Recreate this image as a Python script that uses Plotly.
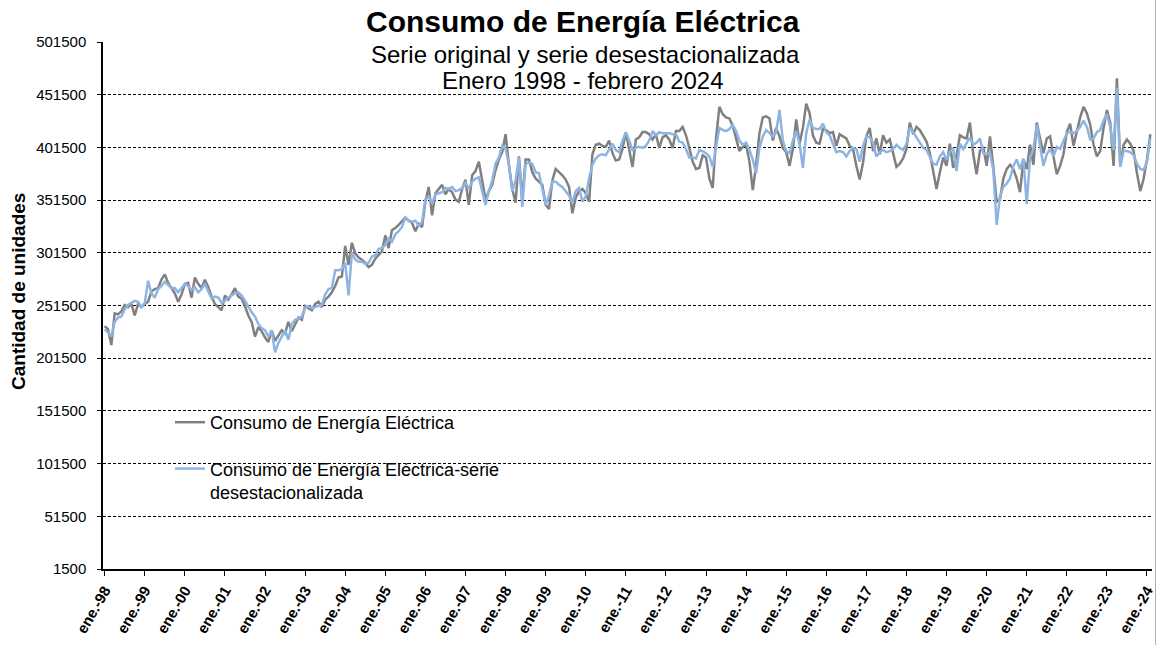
import plotly.graph_objects as go

# ---------------- data (monthly, Jan 1998 - Feb 2024) ----------------
consumo = [
    232000, 229000, 214000, 244000, 243000, 246000, 252000, 250000, 253000, 242000, 253000, 250000,  # 1998
    253000, 255000, 265000, 267000, 268000, 276000, 281000, 273000, 268000, 263000, 255000, 262000,  # 1999
    272000, 273000, 259000, 278000, 272000, 268000, 276000, 269000, 260000, 253000, 250000, 247000,  # 2000
    261000, 257000, 262000, 268000, 260000, 258000, 251000, 242000, 236000, 222000, 231000, 227000,  # 2001
    221000, 217000, 228000, 218000, 223000, 228000, 225000, 236000, 227000, 233000, 240000, 238000,  # 2002
    251000, 249000, 247000, 253000, 255000, 250000, 257000, 260000, 264000, 270000, 278000, 279000,  # 2003
    308000, 290000, 311000, 301000, 297000, 295000, 292000, 288000, 290000, 296000, 300000, 303000,  # 2004
    318000, 306000, 323000, 325000, 328000, 332000, 335000, 332000, 330000, 322000, 329000, 326000,  # 2005
    350000, 364000, 337000, 358000, 362000, 366000, 357000, 362000, 359000, 352000, 350000, 362000,  # 2006
    371000, 347000, 375000, 379000, 388000, 371000, 352000, 360000, 366000, 380000, 390000, 397000,  # 2007
    414000, 385000, 362000, 349000, 393000, 352000, 390000, 390000, 378000, 372000, 369000, 366000,  # 2008
    347000, 343000, 370000, 381000, 378000, 375000, 371000, 364000, 339000, 354000, 360000, 362000,  # 2009
    358000, 350000, 395000, 404000, 405000, 403000, 402000, 408000, 396000, 389000, 390000, 400000,  # 2010
    416000, 400000, 383000, 409000, 411000, 416000, 416000, 414000, 409000, 414000, 401000, 411000,  # 2011
    413000, 409000, 401000, 417000, 417000, 421000, 413000, 401000, 388000, 381000, 382000, 394000,  # 2012
    392000, 372000, 363000, 410000, 440000, 433000, 430000, 429000, 422000, 410000, 398000, 402000,  # 2013
    404000, 388000, 361000, 385000, 415000, 430000, 431000, 429000, 408000, 420000, 412000, 401000,  # 2014
    397000, 384000, 400000, 428000, 405000, 420000, 443000, 434000, 413000, 406000, 405000, 419000,  # 2015
    418000, 415000, 416000, 403000, 414000, 412000, 410000, 403000, 400000, 384000, 371000, 387000,  # 2016
    412000, 420000, 398000, 410000, 395000, 413000, 406000, 409000, 397000, 383000, 386000, 391000,  # 2017
    400000, 425000, 414000, 421000, 418000, 412000, 407000, 396000, 378000, 362000, 378000, 392000,  # 2018
    384000, 405000, 382000, 394000, 413000, 411000, 410000, 425000, 395000, 376000, 398000, 402000,  # 2019
    384000, 412000, 383000, 350000, 352000, 372000, 381000, 385000, 381000, 372000, 359000, 390000,  # 2020
    381000, 404000, 385000, 425000, 410000, 396000, 410000, 412000, 393000, 376000, 384000, 395000,  # 2021
    416000, 424000, 403000, 418000, 430000, 440000, 434000, 423000, 404000, 393000, 398000, 420000,  # 2022
    437000, 425000, 384000, 467000, 384000, 404000, 409000, 405000, 398000, 377000, 360000, 372000,  # 2023
    390000, 414000,                                                                                  # 2024
]

desestacionalizada = [
    229000, 226000, 222000, 236000, 240000, 241000, 248000, 252000, 254000, 256000, 255000, 250000,  # 1998
    254000, 275000, 263000, 259000, 267000, 270000, 274000, 271000, 268000, 268000, 264000, 268000,  # 1999
    272000, 270000, 266000, 269000, 264000, 267000, 272000, 265000, 258000, 260000, 259000, 254000,  # 2000
    256000, 259000, 261000, 263000, 264000, 261000, 256000, 250000, 245000, 241000, 234000, 230000,  # 2001
    228000, 222000, 228000, 207000, 216000, 222000, 228000, 219000, 234000, 238000, 239000, 241000,  # 2002
    249000, 251000, 249000, 250000, 251000, 252000, 262000, 267000, 268000, 285000, 285000, 286000,  # 2003
    292000, 261000, 302000, 295000, 293000, 293000, 291000, 292000, 298000, 299000, 305000, 306000,  # 2004
    309000, 315000, 312000, 319000, 322000, 326000, 335000, 332000, 331000, 332000, 327000, 331000,  # 2005
    352000, 355000, 348000, 357000, 358000, 359000, 363000, 362000, 364000, 360000, 361000, 363000,  # 2006
    368000, 362000, 369000, 372000, 373000, 361000, 347000, 360000, 370000, 386000, 392000, 403000,  # 2007
    400000, 385000, 360000, 370000, 392000, 345000, 386000, 387000, 386000, 378000, 377000, 362000,  # 2008
    347000, 356000, 369000, 369000, 366000, 364000, 360000, 356000, 349000, 360000, 363000, 350000,  # 2009
    355000, 372000, 385000, 391000, 394000, 395000, 394000, 400000, 405000, 399000, 397000, 408000,  # 2010
    416000, 408000, 399000, 401000, 402000, 401000, 403000, 408000, 417000, 413000, 416000, 415000,  # 2011
    415000, 415000, 414000, 414000, 407000, 406000, 400000, 392000, 392000, 391000, 399000, 398000,  # 2012
    396000, 393000, 383000, 400000, 420000, 418000, 417000, 419000, 423000, 417000, 408000, 404000,  # 2013
    406000, 399000, 390000, 377000, 401000, 412000, 418000, 415000, 412000, 416000, 437000, 408000,  # 2014
    398000, 396000, 408000, 417000, 405000, 382000, 415000, 428000, 420000, 419000, 419000, 424000,  # 2015
    416000, 413000, 405000, 397000, 398000, 397000, 393000, 398000, 401000, 400000, 388000, 403000,  # 2016
    412000, 411000, 406000, 393000, 397000, 399000, 397000, 398000, 400000, 404000, 401000, 399000,  # 2017
    405000, 420000, 416000, 411000, 406000, 401000, 399000, 392000, 386000, 385000, 393000, 397000,  # 2018
    390000, 397000, 401000, 379000, 405000, 400000, 405000, 411000, 404000, 406000, 410000, 396000,  # 2019
    395000, 396000, 380000, 328000, 355000, 364000, 367000, 372000, 384000, 390000, 381000, 391000,  # 2020
    348000, 392000, 400000, 423000, 403000, 384000, 395000, 400000, 393000, 402000, 400000, 408000,  # 2021
    415000, 416000, 415000, 417000, 421000, 427000, 421000, 409000, 410000, 416000, 418000, 427000,  # 2022
    433000, 421000, 399000, 458000, 383000, 398000, 398000, 397000, 394000, 386000, 381000, 380000,  # 2023
    388000, 410000,                                                                                  # 2024
]

meses = list(range(len(consumo)))
tick_labels = ["ene.-%02d" % (y % 100) for y in range(1998, 2025)]
tick_pos = [12 * i for i in range(len(tick_labels))]
y_ticks = list(range(1500, 501501, 50000))

FONT = "Liberation Sans, Arial, sans-serif"

fig = go.Figure()
fig.add_trace(go.Scatter(
    x=meses, y=consumo, mode="lines", name="Consumo de Energía Eléctrica",
    line=dict(color="#808080", width=2.5), legendgroup="a"))
fig.add_trace(go.Scatter(
    x=meses, y=desestacionalizada, mode="lines",
    name="Consumo de Energía Eléctrica-serie<br>desestacionalizada",
    line=dict(color="#8EB4E3", width=2.5), legendgroup="b"))

# plot area in pixels: x 103..1152, y 42..569
PL, PR, PT, PB = 103, 1152, 42, 569

def px_x(p):
    return (p - PL) / float(PR - PL)

def px_y(p):
    return (PB - p) / float(PB - PT)

fig.update_layout(
    width=1157, height=645,
    margin=dict(l=PL, r=1157 - PR, t=PT, b=645 - PB, autoexpand=False),
    paper_bgcolor="white", plot_bgcolor="white",
    font=dict(family=FONT, color="black"),
    showlegend=True,
    legend=dict(x=px_x(170), y=px_y(404), xanchor="left", yanchor="top",
                bgcolor="rgba(0,0,0,0)", font=dict(size=18, family=FONT),
                traceorder="grouped", tracegroupgap=20, valign="top",
                itemwidth=30),
    xaxis=dict(range=[-0.5, len(consumo) - 0.5], tickmode="array",
               tickvals=tick_pos, ticktext=tick_labels, tickangle=-60,
               tickfont=dict(size=15, family=FONT, weight="bold"),
               ticklabeloverflow="allow",
               ticks="outside", ticklen=5, tickcolor="black",
               showline=True, linecolor="black", linewidth=1.5,
               showgrid=False, zeroline=False),
    yaxis=dict(range=[1500, 501500], tickmode="array", tickvals=y_ticks,
               ticktext=[str(v) for v in y_ticks],
               tickfont=dict(size=15, family=FONT),
               ticks="outside", ticklen=4, tickcolor="black",
               ticklabelstandoff=8,
               showline=True, linecolor="black", linewidth=1.5,
               showgrid=True, gridcolor="black", gridwidth=1,
               griddash="3px,2px", zeroline=False),
    shapes=[
        dict(type="rect", xref="paper", yref="paper", layer="between",
             x0=px_x(357), x1=px_x(815), y0=px_y(100), y1=px_y(30),
             fillcolor="white", line=dict(width=0)),
        dict(type="rect", xref="paper", yref="paper", layer="between",
             x0=px_x(155), x1=px_x(520), y0=px_y(505), y1=px_y(400),
             fillcolor="white", line=dict(width=0)),
        dict(type="line", xref="paper", yref="paper", layer="above",
             x0=px_x(1155.5), x1=px_x(1155.5), y0=px_y(645), y1=px_y(0),
             line=dict(color="#b0b0b0", width=1)),
    ],
    annotations=[
        dict(text="<b>Consumo de Energía Eléctrica</b>", xref="paper", yref="paper",
             x=px_x(583), y=px_y(21), xanchor="center", yanchor="middle",
             showarrow=False, font=dict(size=30, family=FONT)),
        dict(text="Serie original y serie desestacionalizada", xref="paper", yref="paper",
             x=px_x(585), y=px_y(55), xanchor="center", yanchor="middle",
             showarrow=False, font=dict(size=24, family=FONT)),
        dict(text="Enero 1998 - febrero 2024", xref="paper", yref="paper",
             x=px_x(583), y=px_y(80), xanchor="center", yanchor="middle",
             showarrow=False, font=dict(size=24, family=FONT)),
        dict(text="<b>Cantidad de unidades</b>", xref="paper", yref="paper",
             x=px_x(18), y=px_y(292), xanchor="center", yanchor="middle",
             textangle=-90, showarrow=False, font=dict(size=19, family=FONT)),
    ],
)

fig.write_html("out.html", config={"displayModeBar": False},
               post_script="document.body.style.margin='0';")
